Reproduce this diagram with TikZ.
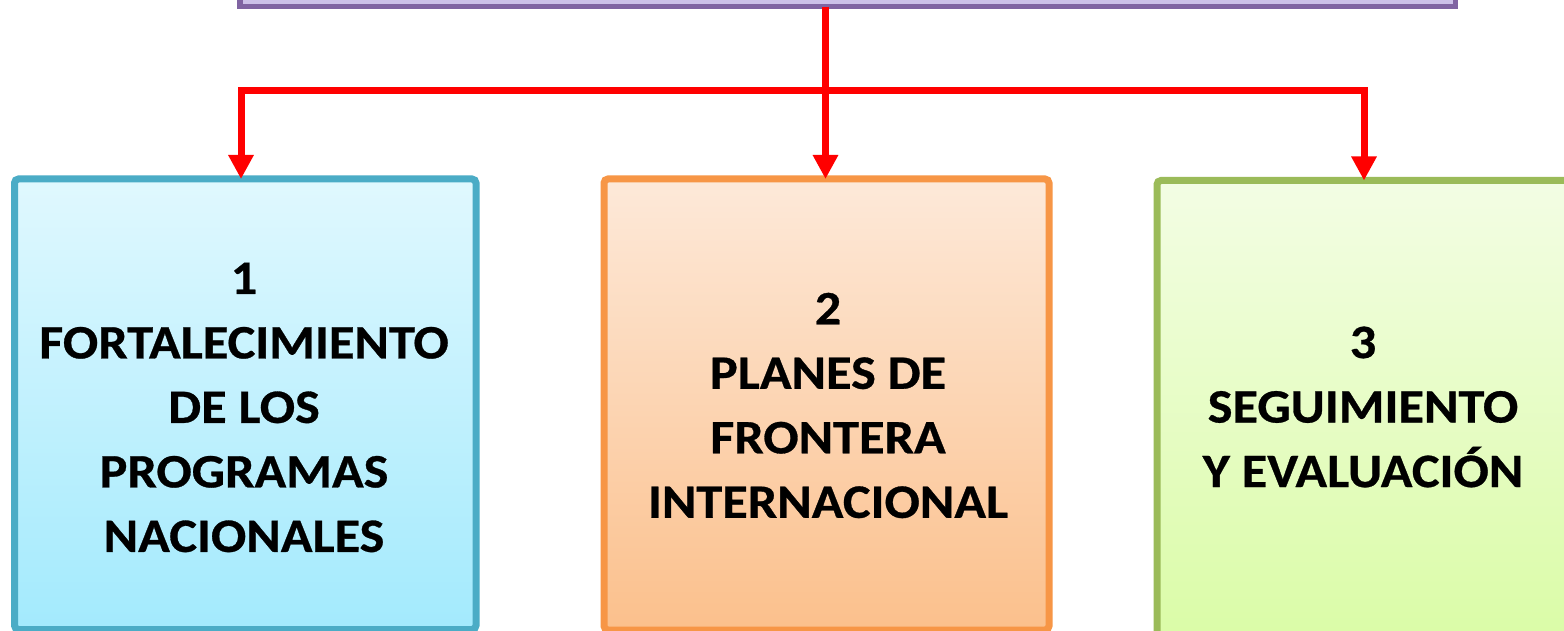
\documentclass[tikz,border=0pt]{standalone}
\usepackage{fontspec}
\setmainfont{Carlito}[BoldFeatures={FakeStretch=1.09,FakeBold=0.6}]
\usetikzlibrary{arrows.meta}
\definecolor{purpB}{HTML}{8064A2}
\definecolor{purpF}{HTML}{CCC0E8}
\definecolor{blueB}{HTML}{4BACC6}
\definecolor{blueT}{HTML}{E0F8FE}
\definecolor{blueBo}{HTML}{A3EAFD}
\definecolor{oraB}{HTML}{F79646}
\definecolor{oraT}{HTML}{FDE9D9}
\definecolor{oraBo}{HTML}{FBC08C}
\definecolor{grnB}{HTML}{9BBB59}
\definecolor{grnT}{HTML}{F3FDE4}
\definecolor{grnBo}{HTML}{DAFCA6}
\definecolor{redL}{HTML}{FF0000}
\tikzset{
  boxstyle/.style={draw, rectangle, rounded corners=4pt, line width=7pt, outer sep=0pt, inner sep=0pt},
  txt/.style={font=\bfseries\fontsize{48}{64.5}\selectfont, align=center, inner sep=0pt},
  arr/.style={draw=redL, line width=7pt, line join=miter, -{Triangle[width=24pt,length=24pt]}},
  redline/.style={draw=redL, line width=7pt}
}
\begin{document}
\begin{tikzpicture}[x=1pt,y=-1pt]
\useasboundingbox (0,0) rectangle (1564,631);
\clip (0,0) rectangle (1564,631);
\fill[white] (0,0) rectangle (1564,631);
% top box
\node[draw=purpB, fill=purpF, line width=5.5pt, outer sep=0pt, inner sep=0pt,
      minimum width=1215.5pt, minimum height=50pt, anchor=south west] (top) at (240,6.75) {};
% boxes
\node[boxstyle, draw=blueB, top color=blueT, bottom color=blueBo,
      minimum width=461.5pt, minimum height=450.5pt, anchor=north west] (b1) at (14.5,179) {};
\node[boxstyle, draw=oraB, top color=oraT, bottom color=oraBo,
      minimum width=445pt, minimum height=451pt, anchor=north west] (b2) at (604,179) {};
\node[boxstyle, draw=grnB, top color=grnT, bottom color=grnBo,
      minimum width=420pt, minimum height=465pt, anchor=north west] (b3) at (1157,180.5) {};
% texts
\node[txt] (t1) at (244,407.5) {1\\FORTALECIMIENTO\\DE LOS\\PROGRAMAS\\NACIONALES};
\node[txt] (t2) at (828,405.5) {2\\PLANES DE\\FRONTERA\\INTERNACIONAL};
\node[txt] (t3) at (1363,407) {3\\SEGUIMIENTO\\Y EVALUACIÓN};
% connectors
\coordinate (j) at (825.5,91);
\coordinate (cL) at (241,91);
\coordinate (cR) at (1364,91);
\draw[arr] (top.south -| j) -- (j |- b2.north);
\draw[arr] (j) -| (cL |- b1.north);
\draw[arr] (j) -| (cR |- b3.north);
\end{tikzpicture}
\end{document}
